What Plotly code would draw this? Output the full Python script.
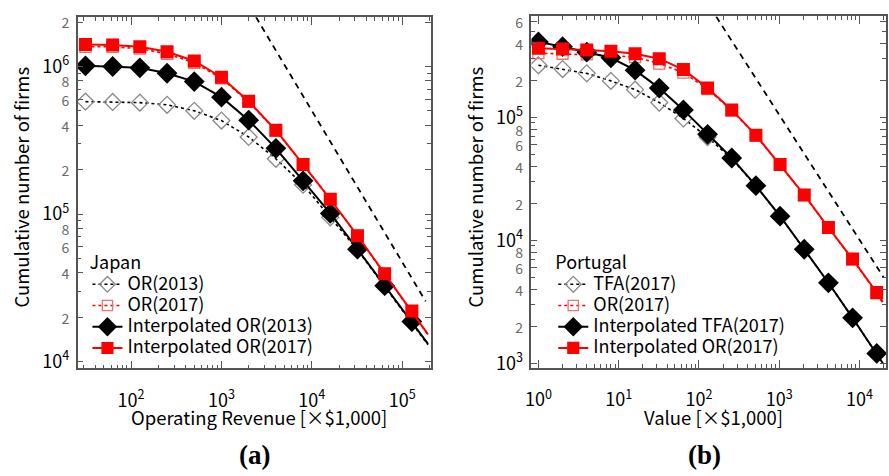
import math
import plotly.graph_objects as go

# ---------------- data: panel (a) Japan ----------------
x_a = [31.25, 62.5, 125, 250, 500, 1000, 2000, 4000, 8000, 16000, 32000, 64000, 128000]
or2013_a = [5.78e5, 5.75e5, 5.69e5, 5.5e5, 5.01e5, 4.3e5, 3.33e5, 2.37e5, 1.58e5, 9.5e4, 5.72e4, 3.22e4, 1.84e4]
or2017_a = [1.36e6, 1.36e6, 1.32e6, 1.22e6, 1.06e6, 8.3e5, 5.75e5, 3.68e5, 2.16e5, 1.26e5, 7.1e4, 3.93e4, 2.19e4]
interp_or2013_a = [1.01e6, 1.0e6, 9.8e5, 9.0e5, 7.9e5, 6.2e5, 4.33e5, 2.79e5, 1.68e5, 1.01e5, 5.78e4, 3.27e4, 1.87e4]
interp_or2017_a = [1.41e6, 1.40e6, 1.36e6, 1.26e6, 1.09e6, 8.46e5, 5.81e5, 3.70e5, 2.17e5, 1.26e5, 7.14e4, 3.94e4, 2.20e4]
tail_x_a = 1.93e5
tail_or2013_a = 1.30e4
tail_or2017_a = 1.52e4
tail_interp_or2013_a = 1.32e4
tail_interp_or2017_a = 1.53e4
zipf_x_a = [2410, 1.82e5]
zipf_y_a = [2.16e6, 2.56e4]

# ---------------- data: panel (b) Portugal ----------------
x_b = [1, 2, 4, 8, 16, 32, 64, 128, 256, 512, 1024, 2048, 4096, 8192, 16384]
tfa2017_b = [2.65e5, 2.47e5, 2.28e5, 1.98e5, 1.68e5, 1.32e5, 9.8e4, 6.9e4, 4.6e4, 2.77e4, 1.57e4, 8.4e3, 4.5e3, 2.33e3, 1.19e3]
or2017_b = [3.33e5, 3.29e5, 3.25e5, 3.18e5, 3.09e5, 2.74e5, 2.31e5, 1.70e5, 1.14e5, 7.1e4, 4.1e4, 2.33e4, 1.26e4, 7.0e3, 3.7e3]
interp_tfa2017_b = [4.11e5, 3.76e5, 3.39e5, 3.05e5, 2.42e5, 1.73e5, 1.15e5, 7.28e4, 4.67e4, 2.78e4, 1.57e4, 8.45e3, 4.51e3, 2.34e3, 1.2e3]
interp_or2017_b = [3.65e5, 3.6e5, 3.53e5, 3.45e5, 3.29e5, 3.0e5, 2.45e5, 1.73e5, 1.15e5, 7.16e4, 4.13e4, 2.34e4, 1.27e4, 7.03e3, 3.76e3]
tail_x_b = 1.95e4
tail_tfa2017_b = 1.0e3
tail_or2017_b = 3.1e3
tail_interp_tfa2017_b = 1.0e3
tail_interp_or2017_b = 3.15e3
zipf_x_b = [164, 1.99e4]
zipf_y_b = [6.6e5, 5.0e3]

# tick labels
y_ticks_a = [1e4, 2e4, 4e4, 6e4, 8e4, 1e5, 2e5, 4e5, 6e5, 8e5, 1e6, 2e6]
y_minor_a = [3e4, 5e4, 7e4, 9e4, 3e5, 5e5, 7e5, 9e5]
y_ticks_b = [1e3, 2e3, 4e3, 6e3, 8e3, 1e4, 2e4, 4e4, 6e4, 8e4, 1e5, 2e5, 4e5, 6e5]
y_minor_b = [3e3, 5e3, 7e3, 9e3, 3e4, 5e4, 7e4, 9e4, 3e5, 5e5]
x_ticks_a = [1e2, 1e3, 1e4, 1e5]
x_ticks_b = [1, 1e1, 1e2, 1e3, 1e4]

FONT = "Noto Sans CJK JP, Noto Sans, sans-serif"
AX = "#555555"
GRAYLAB = "#6a6a6a"


def ylabel(v):
    e = math.log10(v)
    if abs(e - round(e)) < 1e-9:
        return "10<sup>%d</sup>" % round(e)
    m = int(round(v / 10 ** math.floor(e)))
    return "<span style='color:%s;font-size:14px'>%d</span>" % (GRAYLAB, m)


def xlabel(v):
    return "10<sup>%d</sup>" % round(math.log10(v))


def x_minor(decades):
    out = []
    for d in decades:
        for k in range(2, 10):
            out.append(k * d)
    return out


def big(s):
    return "<span style='font-size:18px'>%s</span>" % s


fig = go.Figure()


def add_panel(xs, hollow_k, hollow_r, fill_k, fill_r, tx, tails, zx, zy, names, xa, ya, legend):
    def ext(xv, yv, t):
        return list(xv) + [tx], list(yv) + [t]

    n = len(xs)
    xx, yy = ext(xs, hollow_k, tails[0])
    fig.add_trace(go.Scatter(x=xx, y=yy, mode="lines+markers", name=big(names[0]),
                             line=dict(color="black", width=1.6, dash="dot"),
                             marker=dict(symbol="diamond-open", size=[13] * n + [0], opacity=1,
                                         color="#8a8a8a", line=dict(width=1.3)),
                             xaxis=xa, yaxis=ya, legend=legend))
    xx, yy = ext(xs, hollow_r, tails[1])
    fig.add_trace(go.Scatter(x=xx, y=yy, mode="lines+markers", name=big(names[1]),
                             line=dict(color="red", width=1.6, dash="dot"),
                             marker=dict(symbol="square-open", size=[11] * n + [0], opacity=1,
                                         color="#f07070", line=dict(width=1.3)),
                             xaxis=xa, yaxis=ya, legend=legend))
    xx, yy = ext(xs, fill_k, tails[2])
    fig.add_trace(go.Scatter(x=xx, y=yy, mode="lines+markers", name=big(names[2]),
                             line=dict(color="black", width=2),
                             marker=dict(symbol="diamond", size=[16] * n + [0], opacity=1,
                                         color="black", line=dict(width=0)),
                             xaxis=xa, yaxis=ya, legend=legend))
    xx, yy = ext(xs, fill_r, tails[3])
    fig.add_trace(go.Scatter(x=xx, y=yy, mode="lines+markers", name=big(names[3]),
                             line=dict(color="red", width=2),
                             marker=dict(symbol="square", size=[13] * n + [0], opacity=1,
                                         color="red", line=dict(width=0)),
                             xaxis=xa, yaxis=ya, legend=legend))
    fig.add_trace(go.Scatter(x=zx, y=zy, mode="lines", showlegend=False,
                             line=dict(color="black", width=1.8, dash="6px,5px"),
                             xaxis=xa, yaxis=ya, hoverinfo="skip"))


add_panel(x_a, or2013_a, or2017_a, interp_or2013_a, interp_or2017_a, tail_x_a,
          [tail_or2013_a, tail_or2017_a, tail_interp_or2013_a, tail_interp_or2017_a],
          zipf_x_a, zipf_y_a,
          ["OR(2013)", "OR(2017)", "Interpolated OR(2013)", "Interpolated OR(2017)"],
          "x", "y", "legend")
add_panel(x_b, tfa2017_b, or2017_b, interp_tfa2017_b, interp_or2017_b, tail_x_b,
          [tail_tfa2017_b, tail_or2017_b, tail_interp_tfa2017_b, tail_interp_or2017_b],
          zipf_x_b, zipf_y_b,
          ["TFA(2017)", "OR(2017)", "Interpolated TFA(2017)", "Interpolated OR(2017)"],
          "x2", "y2", "legend2")

W, H = 889, 476


def px(x):
    return x / W


def py(y):
    return 1 - y / H


common_axis = dict(type="log", showline=True, linecolor=AX, linewidth=1.5, mirror="ticks",
                   ticks="inside", tickcolor=AX, tickwidth=1.2, showgrid=False, zeroline=False,
                   tickfont=dict(size=18, color="black", family=FONT))

fig.update_layout(
    width=W, height=H, margin=dict(l=0, r=0, t=0, b=0),
    paper_bgcolor="white", plot_bgcolor="white",
    font=dict(family=FONT, size=16, color="black"),
    xaxis=dict(common_axis, domain=[px(72), px(428)], range=[1.407, 5.32], anchor="y",
               tickvals=x_ticks_a, ticktext=[xlabel(v) for v in x_ticks_a], ticklen=8,
               ticklabelstandoff=15,
               minor=dict(tickvals=x_minor([10, 100, 1000, 10000, 100000]), ticks="inside",
                          ticklen=4, tickcolor=AX, showgrid=False)),
    yaxis=dict(common_axis, domain=[py(372), py(12.5)], range=[3.954, 6.334], anchor="x",
               tickvals=y_ticks_a, ticktext=[ylabel(v) for v in y_ticks_a], ticklen=6,
               ticklabelstandoff=3,
               minor=dict(tickvals=y_minor_a, ticks="inside", ticklen=4, tickcolor=AX, showgrid=False)),
    xaxis2=dict(common_axis, domain=[px(529), px(886)], range=[-0.087, 4.33], anchor="y2",
                tickvals=x_ticks_b, ticktext=[xlabel(v) for v in x_ticks_b], ticklen=8,
                ticklabelstandoff=15,
                minor=dict(tickvals=x_minor([1, 10, 100, 1000, 10000]), ticks="inside",
                           ticklen=4, tickcolor=AX, showgrid=False)),
    yaxis2=dict(common_axis, domain=[py(371.7), py(11.7)], range=[2.96, 5.821], anchor="x2",
                tickvals=y_ticks_b, ticktext=[ylabel(v) for v in y_ticks_b], ticklen=6,
                ticklabelstandoff=3,
                minor=dict(tickvals=y_minor_b, ticks="inside", ticklen=4, tickcolor=AX, showgrid=False)),
    legend=dict(x=px(82), y=py(246), xanchor="left", yanchor="top", bgcolor="rgba(0,0,0,0)",
                title=dict(text="Japan", font=dict(size=18)), font=dict(size=14),
                tracegroupgap=0, itemwidth=30),
    legend2=dict(x=px(551), y=py(246), xanchor="left", yanchor="top", bgcolor="rgba(0,0,0,0)",
                 title=dict(text="Portugal", font=dict(size=18)), font=dict(size=14),
                 tracegroupgap=0, itemwidth=30),
    annotations=[
        dict(text="Operating Revenue [×$1,000]", x=px(255), y=py(422), xanchor="center", yanchor="middle",
             xref="paper", yref="paper", showarrow=False, font=dict(size=18.5)),
        dict(text="Value [×$1,000]", x=px(712), y=py(422), xanchor="center", yanchor="middle",
             xref="paper", yref="paper", showarrow=False, font=dict(size=18.5)),
        dict(text="Cumulative number of firms", x=px(15), y=py(186), xanchor="center", yanchor="middle",
             xref="paper", yref="paper", showarrow=False, textangle=-90, font=dict(size=18.5)),
        dict(text="Cumulative number of firms", x=px(472), y=py(186), xanchor="center", yanchor="middle",
             xref="paper", yref="paper", showarrow=False, textangle=-90, font=dict(size=18.5)),
        dict(text="<b>(a)</b>", x=px(250), y=py(461), xanchor="center", yanchor="middle",
             xref="paper", yref="paper", showarrow=False,
             font=dict(size=27, family="Liberation Serif, Times New Roman, serif")),
        dict(text="<b>(b)</b>", x=px(703), y=py(461), xanchor="center", yanchor="middle",
             xref="paper", yref="paper", showarrow=False,
             font=dict(size=27, family="Liberation Serif, Times New Roman, serif")),
    ],
)

fig.write_html("out.html", config={"displayModeBar": False},
               post_script="document.body.style.margin='0px';")
